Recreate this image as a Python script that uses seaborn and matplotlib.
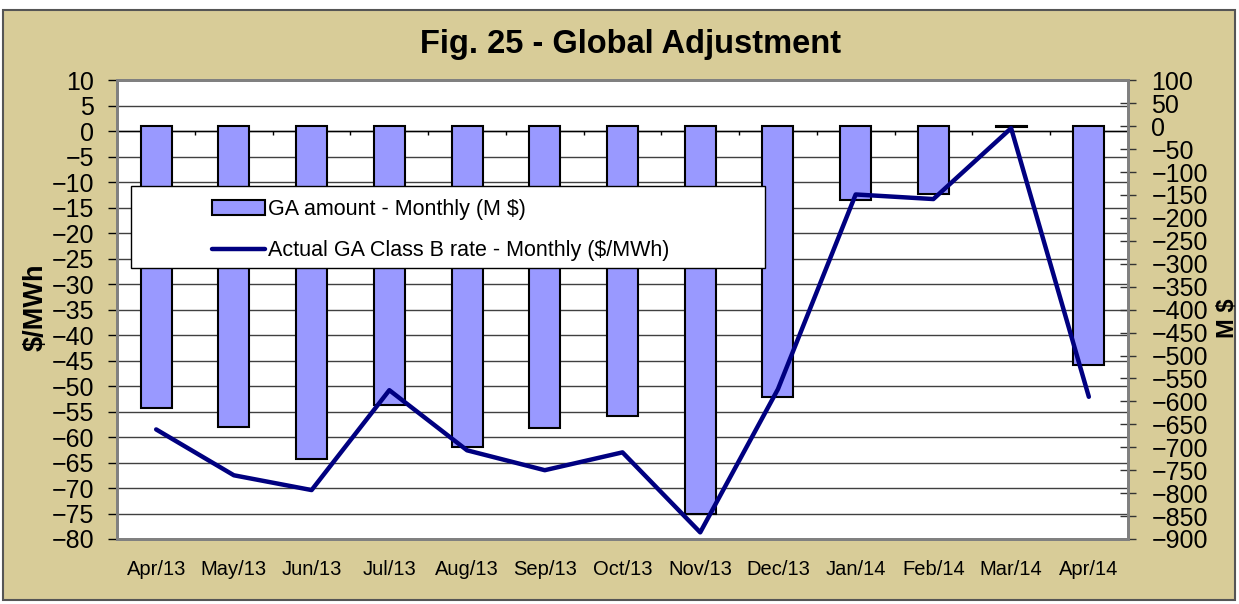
import numpy as np
import pandas as pd
import matplotlib
matplotlib.use("Agg")
import matplotlib.pyplot as plt
import seaborn as sns
from matplotlib.patches import Rectangle, Patch
from matplotlib.lines import Line2D

# ---- data ----
months = ["Apr/13", "May/13", "Jun/13", "Jul/13", "Aug/13", "Sep/13", "Oct/13",
          "Nov/13", "Dec/13", "Jan/14", "Feb/14", "Mar/14", "Apr/14"]
ga_amount = [-615, -656, -725, -607, -699, -658, -632, -846, -590, -161, -148, -2, -520]
ga_rate = [-58.5, -67.5, -70.4, -50.8, -62.6, -66.5, -63.0, -78.7, -50.6, -12.4, -13.3, 0.6, -52.1]
left_ticks = list(range(-80, 11, 5))
right_ticks = list(range(-900, 101, 50))
bar_label = "GA amount - Monthly (M $)"
line_label = "Actual GA Class B rate - Monthly ($/MWh)"

df = pd.DataFrame({"month": months, "amount": ga_amount, "rate": ga_rate,
                   "pos": np.arange(len(months))})

sns.set_theme(style="white")
plt.rcParams["font.family"] = ["Liberation Sans", "DejaVu Sans"]
for k in ("text.color", "axes.labelcolor", "xtick.color", "ytick.color"):
    plt.rcParams[k] = "black"

W, H = 1239, 604
fig = plt.figure(figsize=(W / 100, H / 100), dpi=100)
fig.patch.set_facecolor("white")
fig.add_artist(Rectangle((3 / W, 4 / H), 1232 / W, 590 / H, transform=fig.transFigure,
                         facecolor="#D8CC98", edgecolor="#555555", lw=1.5, zorder=-10))

ax = fig.add_axes([117.3 / W, 1 - 539 / H, (1127.7 - 117.3) / W, (539 - 80.3) / H])
ax.set_facecolor("white")
ax.set_xlim(-0.5, len(months) - 0.5)
ax.set_ylim(-80, 10)
ax.set_yticks(left_ticks)
ax.yaxis.grid(True, color="#404040", lw=1)
ax.set_axisbelow(True)

# bars on secondary (M $) axis
ax2 = ax.twinx()
sns.barplot(data=df, x="month", y="amount", ax=ax2, color="#9999FF", saturation=1,
            width=0.4, edgecolor="black", linewidth=1.5)
ax2.set_ylim(-900, 100)
ax2.set_yticks(right_ticks)
ax2.set_ylabel("")
ax2.set_xlabel("")

# line on top, on the $/MWh scale
ax3 = ax.twinx()
ax3.set_ylim(-80, 10)
sns.lineplot(data=df, x="pos", y="rate", ax=ax3, color="#000080", lw=3.2, sort=False)
ax3.set_axis_off()

ax.set_xlim(-0.5, len(months) - 0.5)
ax.axhline(0, color="black", lw=1, zorder=1)
ax.vlines(np.arange(0.5, len(months) - 1, 1), -0.8, 0, color="black", lw=1)

ax.set_xticks(range(len(months)))
ax.set_xticklabels(months, fontsize=14.5)
ax.tick_params(axis="x", length=0, pad=15, labelcolor="black")
ax.tick_params(axis="y", direction="out", length=6.5, width=1, color="black",
               labelsize=18, pad=10, left=True, labelcolor="black")
ax2.tick_params(axis="y", direction="inout", length=12, width=1, color="#333333",
                labelsize=18, pad=11, right=True, labelcolor="black")
for a in (ax, ax2):
    for s in a.spines.values():
        s.set_color("#808080")
        s.set_linewidth(2)
ax.set_xlabel("")
ax.set_ylabel("")

fig.text(631 / W, 1 - 44 / H, "Fig. 25 - Global Adjustment", ha="center", va="center",
         fontsize=23.5, fontweight="bold", color="black")
fig.text(36 / W, 1 - 307 / H, "$/MWh", rotation=90, ha="center", va="center",
         fontsize=19.5, fontweight="bold", color="black")
fig.text(1227 / W, 1 - 318 / H, "M $", rotation=90, ha="center", va="center",
         fontsize=17, fontweight="bold", color="black")

# legend box
fig.add_artist(Rectangle((131 / W, (H - 268) / H), 634 / W, 82 / H, transform=fig.transFigure,
                         facecolor="white", edgecolor="black", lw=1, zorder=4))
handles = [Patch(facecolor="#9999FF", edgecolor="black", lw=1.5),
           Line2D([], [], color="#000080", lw=3.2)]
leg = fig.legend(handles, [bar_label, line_label], loc="upper left",
                 bbox_to_anchor=(212 / W, 1 - 199 / H), bbox_transform=fig.transFigure,
                 frameon=False, fontsize=15.5, handlelength=2.45, handleheight=0.75,
                 handletextpad=0.15, labelspacing=0.95, borderpad=0, borderaxespad=0)
for t in leg.get_texts():
    t.set_color("black")
leg.set_zorder(5)

fig.savefig("out.png", dpi=100)
